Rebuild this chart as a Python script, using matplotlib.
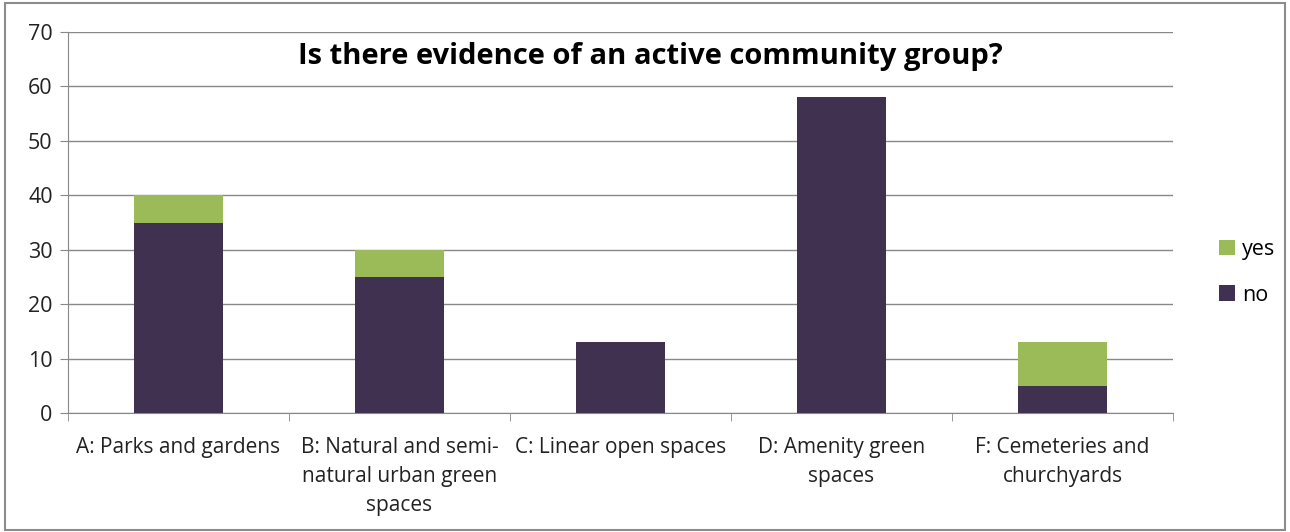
import matplotlib
matplotlib.use("Agg")
import matplotlib.pyplot as plt
from matplotlib.patches import Rectangle
import numpy as np

categories = ["A: Parks and gardens", "B: Natural and semi-\nnatural urban green\nspaces",
              "C: Linear open spaces", "D: Amenity green\nspaces", "F: Cemeteries and\nchurchyards"]
no_vals = [35, 25, 13, 58, 5]
yes_vals = [5, 5, 0, 0, 8]
yticks = [0, 10, 20, 30, 40, 50, 60, 70]

plt.rcParams['font.family'] = ['Open Sans', 'DejaVu Sans']

fig = plt.figure(figsize=(12.9, 5.32), dpi=100)
fig.patches.append(Rectangle((0.004, 0.004), 0.992, 0.99, transform=fig.transFigure,
                             fill=False, edgecolor='#8c8c8c', linewidth=1.5))
ax = fig.add_axes([0.0527, 0.2237, 0.8566, 0.7161])

x = np.arange(len(categories))
c_no = '#403151'
c_yes = '#9BBB59'
ax.bar(x, no_vals, width=0.4, color=c_no, label='no', zorder=3)
ax.bar(x, yes_vals, width=0.4, bottom=no_vals, color=c_yes, label='yes', zorder=3)

ax.set_xlim(-0.5, len(categories) - 0.5)
ax.set_ylim(0, 70)
ax.set_yticks(yticks)
ax.set_yticklabels([str(t) for t in yticks], fontsize=15.5, color='#222222')
ax.yaxis.grid(True, color='#888888', linewidth=1, zorder=0)
ax.tick_params(axis='y', length=6, color='#888888', pad=5)

ax.set_xticks(x)
ax.set_xticklabels(categories, fontsize=15, color='#222222', linespacing=1.5)
ax.tick_params(axis='x', length=0, pad=17)
ax.set_xticks(np.arange(-0.5, len(categories)), minor=True)
ax.tick_params(axis='x', which='minor', length=6, color='#888888')

for s in ['top', 'right']:
    ax.spines[s].set_visible(False)
for s in ['left', 'bottom']:
    ax.spines[s].set_color('#888888')

ax.text(0.527, 0.975, "Is there evidence of an active community group?", transform=ax.transAxes,
        ha='center', va='top', fontsize=21, fontweight='bold', color='black')

handles, labels = ax.get_legend_handles_labels()
leg = fig.legend(handles[::-1], labels[::-1], loc='center left', bbox_to_anchor=(0.93, 0.488),
                 frameon=False, fontsize=15.5, handlelength=0.75, handleheight=0.75,
                 handletextpad=0.3, labelspacing=1.15)

fig.savefig("out.png", dpi=100)
